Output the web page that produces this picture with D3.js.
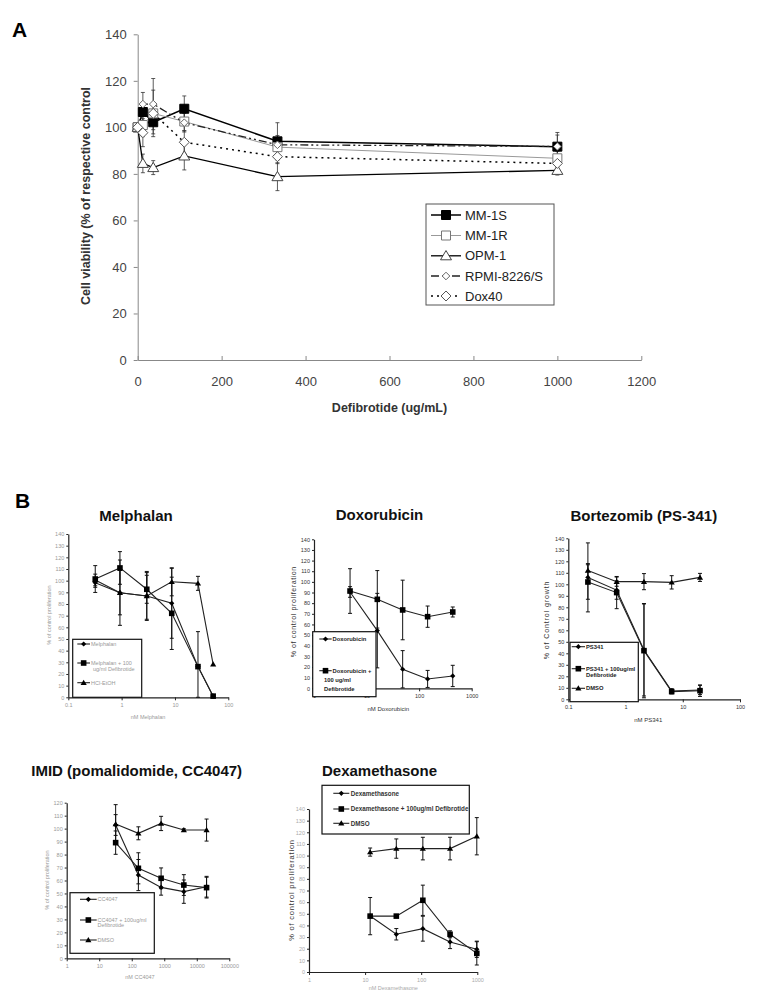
<!DOCTYPE html>
<html><head><meta charset="utf-8">
<script src="https://cdn.jsdelivr.net/npm/d3@7"></script>
<style>body{margin:0;background:#fff}svg{display:block}text{font-family:Arial,"Liberation Sans",sans-serif}</style>
</head><body><svg id="c" width="762" height="1006"></svg>
<script>
// ---------- Panel A data ----------
const defibDoses = [0, 12.3, 37, 111, 333, 1000];
const aTicksX = [0, 200, 400, 600, 800, 1000, 1200];
const aTicksY = [0, 20, 40, 60, 80, 100, 120, 140];
const mm1s = [100, 106.6, 102.2, 108, 94, 91.7];
const mm1sErr = [0, 4, 5, 5.5, 8, 5];
const mm1r = [100, 101, 106, 102.5, 91.5, 86.7];
const mm1rErr = [0, 5, 4, 4, 4, 3];
const opm1 = [100, 84.5, 82.7, 87.7, 78.8, 81.5];
const opm1Err = [0, 4, 3, 6, 6, 2];
const rpmi = [100, 110, 110, 102, 92.5, 91.8];
const rpmiErr = [0, 5, 11, 4, 4, 6];
const dox40 = [100, 97.7, 106, 93.6, 87.4, 84.5];
const dox40Err = [0, 6, 10, 5, 3, 3];

// ---------- Melphalan ----------
const melDoses = [0.32, 0.93, 2.96, 8.7, 27, 52];
const melAlone = [98.3, 89.7, 86.9, 80.6, 26.3, 1];
const melAloneErr = [4, 19, 20, 30, 0, 0];
const melDefib = [101.4, 110.9, 92.6, 72, 26.3, 1];
const melDefibErr = [11.5, 14, 12, 31, 30, 0];
const melVeh = [100.6, 89.7, 86.9, 99, 97.7, 28.3];
const melVehErr = [5, 28, 21, 12, 6, 0];
const melTicksX = [0.1, 1, 10, 100];

// ---------- Doxorubicin ----------
const doxDoses = [4.85, 16, 48.6, 145, 436];
const doxAlone = [90.5, 54.2, 17.9, 8.8, 11.6];
const doxAloneErr = [5, 35, 17.5, 8, 10];
const doxDefib = [91.4, 83.6, 73.6, 67.3, 71.7];
const doxDefibErr = [21, 27, 28, 10, 4.7];
const doxTicksX = [1, 10, 100, 1000];

// ---------- Bortezomib ----------
const bzDoses = [0.22, 0.7, 2.1, 6.4, 20];
const bzAlone = [106, 95, 42.9, 7.2, 8.1];
const bzAloneErr = [30, 8, 40, 2, 4];
const bzDefib = [102, 92.8, 42.3, 6.7, 7.5];
const bzDefibErr = [15, 14, 41, 2, 5];
const bzDmso = [112, 102.3, 102.3, 101.7, 106];
const bzDmsoErr = [6, 4, 7, 5.8, 3.5];
const bzTicksX = [0.1, 1, 10, 100];

// ---------- IMID ----------
const imidDoses = [32, 160, 800, 4000, 20000];
const imidAlone = [102.8, 64.2, 54.7, 51.4, 55.2];
const imidAloneErr = [8, 12, 6, 9, 8];
const imidDefib = [89.2, 69.4, 61.7, 56.5, 54.5];
const imidDefibErr = [9, 12, 8, 8, 8];
const imidDmso = [103.5, 96.4, 104, 98.9, 98.9];
const imidDmsoErr = [15, 5, 5.5, 1, 8.5];
const imidTicksX = [1, 10, 100, 1000, 10000, 100000];

// ---------- Dexamethasone ----------
const dexDoses = [12.3, 36, 107, 327, 980];
const dexAlone = [48.1, 32.4, 37.2, 25.8, 19.5];
const dexAloneErr = [0, 4.9, 10.7, 5.7, 7];
const dexDefib = [48, 48, 61.6, 32.4, 16];
const dexDefibErr = [16, 0, 13, 3, 10];
const dexDmso = [103, 106, 106, 106, 116.6];
const dexDmsoErr = [3.5, 8.3, 9.7, 9.7, 16];
const dexTicksX = [1, 10, 100, 1000];

const svg = d3.select("#c");

function markerPath(type, r) {
  if (type === "square") return `M${-r},${-r}h${2*r}v${2*r}h${-2*r}Z`;
  if (type === "diamond") return `M0,${-r}L${r},0L0,${r}L${-r},0Z`;
  if (type === "triangle") return `M0,${-r*1.05}L${r*1.1},${r*0.8}L${-r*1.1},${r*0.8}Z`;
  return "";
}

// ================= PANEL A =================
(function () {
  const x = d3.scaleLinear().domain([0, 1200]).range([137.7, 641.3]);
  const y = d3.scaleLinear().domain([0, 140]).range([360, 34.3]);
  const g = svg.append("g");

  const ya = d3.axisLeft(y).tickValues(aTicksY).tickSizeInner(4).tickSizeOuter(0).tickPadding(7).tickFormat(d3.format("d"));
  const gy = g.append("g").attr("transform", `translate(${x(0)},0)`).call(ya);
  const xa = d3.axisBottom(x).tickValues(aTicksX).tickSizeInner(-4).tickSizeOuter(0).tickPadding(17).tickFormat(d3.format("d"));
  const gx = g.append("g").attr("transform", `translate(0,${y(0)})`).call(xa);
  [gx, gy].forEach(a => {
    a.select(".domain").attr("stroke", "#888");
    a.selectAll(".tick line").attr("stroke", "#888");
    a.selectAll(".tick text").attr("fill", "#444").attr("font-size", 13).attr("font-family", "Arial, Liberation Sans, sans-serif");
  });

  g.append("text").attr("transform", `translate(90,196) rotate(-90)`).attr("text-anchor", "middle")
    .attr("font-weight", "bold").attr("font-size", 12.5).attr("fill", "#333")
    .text("Cell viability (% of respective control");
  g.append("text").attr("x", 389.5).attr("y", 412).attr("text-anchor", "middle")
    .attr("font-weight", "bold").attr("font-size", 12.5).attr("fill", "#333").text("Defibrotide (ug/mL)");
  svg.append("text").attr("x", 12).attr("y", 37).attr("font-weight", "bold").attr("font-size", 21).attr("fill", "#000").text("A");

  const series = [
    { name: "MM-1S", vals: mm1s, errs: mm1sErr, stroke: "#000", width: 1.5, dash: null, marker: "square", r: 4.5, fill: "#000", ms: "#000" },
    { name: "MM-1R", vals: mm1r, errs: mm1rErr, stroke: "#999", width: 1, dash: null, marker: "square", r: 4.5, fill: "#fff", ms: "#777" },
    { name: "OPM-1", vals: opm1, errs: opm1Err, stroke: "#000", width: 1.3, dash: null, marker: "triangle", r: 5, fill: "#fff", ms: "#444" },
    { name: "RPMI-8226/S", vals: rpmi, errs: rpmiErr, stroke: "#222", width: 1.3, dash: "8,3,2,3,2,3", marker: "diamond", r: 3.8, fill: "#fff", ms: "#666" },
    { name: "Dox40", vals: dox40, errs: dox40Err, stroke: "#000", width: 1.5, dash: "2,4", marker: "diamond", r: 5, fill: "#fff", ms: "#555" }
  ];
  const line = d3.line().x((d, i) => x(defibDoses[i])).y(d => y(d));
  series.forEach(s => {
    s.vals.forEach((v, i) => {
      const e = s.errs[i]; if (!e) return;
      const cx = x(defibDoses[i]);
      g.append("line").attr("x1", cx).attr("x2", cx).attr("y1", y(v - e)).attr("y2", y(v + e)).attr("stroke", "#333").attr("stroke-width", 0.8);
      [v - e, v + e].forEach(t => g.append("line").attr("x1", cx - 2).attr("x2", cx + 2).attr("y1", y(t)).attr("y2", y(t)).attr("stroke", "#333").attr("stroke-width", 0.8));
    });
  });
  series.forEach(s => {
    g.append("path").attr("d", line(s.vals)).attr("fill", "none").attr("stroke", s.stroke)
      .attr("stroke-width", s.width).attr("stroke-dasharray", s.dash);
  });
  series.forEach(s => {
    s.vals.forEach((v, i) => {
      g.append("path").attr("d", markerPath(s.marker, s.r)).attr("transform", `translate(${x(defibDoses[i])},${y(v)})`)
        .attr("fill", s.fill).attr("stroke", s.ms).attr("stroke-width", 1);
    });
  });
  // legend
  const lg = g.append("g");
  lg.append("rect").attr("x", 426).attr("y", 204).attr("width", 128).attr("height", 101).attr("fill", "#fff").attr("stroke", "#555");
  const ly = [215, 235.5, 255.8, 276, 296];
  series.forEach((s, i) => {
    lg.append("line").attr("x1", 431).attr("x2", 461).attr("y1", ly[i]).attr("y2", ly[i]).attr("stroke", s.stroke)
      .attr("stroke-width", s.width).attr("stroke-dasharray", s.dash);
    lg.append("path").attr("d", markerPath(s.marker, s.r)).attr("transform", `translate(446,${ly[i]})`)
      .attr("fill", s.fill).attr("stroke", s.ms);
    lg.append("text").attr("x", 465).attr("y", ly[i]).attr("dy", "0.35em").attr("font-size", 13).attr("fill", "#222").text(s.name);
  });
})();

svg.append("text").attr("x", 15).attr("y", 508).attr("font-weight", "bold").attr("font-size", 21).attr("fill", "#000").text("B");

// ================= small panels =================
function panel(c) {
  const x = d3.scaleLog().domain(c.xd).range(c.xr);
  const y = d3.scaleLinear().domain([0, c.ymax]).range(c.yr);
  const g = svg.append("g");
  const ya = d3.axisLeft(y).tickValues(d3.range(0, c.ymax + 1, 10)).tickSizeInner(2).tickSizeOuter(0).tickPadding(2).tickFormat(d3.format("d"));
  const gy = g.append("g").attr("transform", `translate(${c.xr[0]},0)`).call(ya);
  const xa = d3.axisBottom(x).tickValues(c.xticks).tickSizeInner(3).tickSizeOuter(0).tickPadding(3).tickFormat(d => String(d));
  const gx = g.append("g").attr("transform", `translate(0,${c.yr[0]})`).call(xa);
  [gx, gy].forEach(a => {
    a.select(".domain").attr("stroke", "#222").attr("stroke-width", 1.2);
    a.selectAll(".tick line").attr("stroke", "#222");
    a.selectAll(".tick text").attr("fill", c.tickColor).attr("font-size", 5.5).attr("font-family", "Arial, Liberation Sans, sans-serif");
  });
  g.append("text").attr("x", c.title[1]).attr("y", c.title[2]).attr("text-anchor", "middle").attr("font-weight", "bold")
    .attr("font-size", 15).attr("fill", "#111").text(c.title[0]);
  g.append("text").attr("x", c.xlab[1]).attr("y", c.xlab[2]).attr("text-anchor", "middle").attr("font-size", c.xlab[3])
    .attr("fill", c.xlab[4]).text(c.xlab[0]);
  g.append("text").attr("transform", `translate(${c.ylab[1]},${c.ylab[2]}) rotate(-90)`).attr("text-anchor", "middle")
    .attr("font-size", c.ylab[3]).attr("fill", c.ylab[4]).attr("letter-spacing", c.ylab[5] || 0).text(c.ylab[0]);

  const ymin = 0;
  c.series.forEach(s => {
    s.vals.forEach((v, i) => {
      const e = s.errs[i]; if (!e) return;
      const cx = x(c.doses[i]);
      const lo = Math.max(ymin, v - e), hi = Math.min(c.ymax, v + e);
      g.append("line").attr("x1", cx).attr("x2", cx).attr("y1", y(lo)).attr("y2", y(hi)).attr("stroke", "#111").attr("stroke-width", 1);
      [lo, hi].forEach(t => g.append("line").attr("x1", cx - 2).attr("x2", cx + 2).attr("y1", y(t)).attr("y2", y(t)).attr("stroke", "#111").attr("stroke-width", 1));
    });
  });
  const line = d3.line().x((d, i) => x(c.doses[i])).y(d => y(d));
  c.series.forEach(s => {
    g.append("path").attr("d", line(s.vals)).attr("fill", "none").attr("stroke", "#222").attr("stroke-width", 1.1);
  });
  c.series.forEach(s => {
    s.vals.forEach((v, i) => {
      g.append("path").attr("d", markerPath(s.marker, s.r)).attr("transform", `translate(${x(c.doses[i])},${y(v)})`).attr("fill", "#000");
    });
  });
  // legend
  const L = c.legend;
  g.append("rect").attr("x", L.box[0]).attr("y", L.box[1]).attr("width", L.box[2]).attr("height", L.box[3])
    .attr("fill", "#fff").attr("stroke", "#111").attr("stroke-width", 1.2);
  L.entries.forEach((en, i) => {
    const s = c.series[i];
    g.append("line").attr("x1", L.lx[0]).attr("x2", L.lx[1]).attr("y1", en.y).attr("y2", en.y).attr("stroke", "#222").attr("stroke-width", 1.1);
    g.append("path").attr("d", markerPath(s.marker, s.r)).attr("transform", `translate(${(L.lx[0] + L.lx[1]) / 2},${en.y})`).attr("fill", "#000");
    en.lines.forEach((t, j) => {
      g.append("text").attr("x", j === 0 ? L.tx : (en.tx2 || L.tx)).attr("y", en.y + j * (en.gap || 7)).attr("dy", "0.35em")
        .attr("font-size", L.fs).attr("fill", L.color).attr("font-weight", L.fw || "normal").text(t);
    });
  });
}

const mk = {
  diamond: (vals, errs) => ({ vals, errs, marker: "diamond", r: 2.6 }),
  square: (vals, errs) => ({ vals, errs, marker: "square", r: 2.8 }),
  triangle: (vals, errs) => ({ vals, errs, marker: "triangle", r: 2.8 })
};

panel({
  xd: [0.1, 100], xr: [68.3, 228.3], ymax: 140, yr: [697.3, 534], xticks: melTicksX, doses: melDoses,
  tickColor: "#999", title: ["Melphalan", 136, 520.5],
  xlab: ["nM Melphalan", 148, 719, 5.5, "#999"], ylab: ["% of control proliferation", 51, 615, 5.5, "#999"],
  series: [mk.diamond(melAlone, melAloneErr), mk.square(melDefib, melDefibErr), mk.triangle(melVeh, melVehErr)],
  legend: { box: [72.7, 639.3, 69, 58], lx: [77.3, 90], tx: 91, fs: 5.5, color: "#999",
    entries: [{ y: 644, lines: ["Melphalan"] }, { y: 663, lines: ["Melphalan + 100", "ug/ml Defibrotide"], gap: 5.6, tx2: 93 }, { y: 682.7, lines: ["HCl-EtOH"] }] }
});

panel({
  xd: [1, 1000], xr: [314, 471.7], ymax: 140, yr: [688.3, 539.3], xticks: doxTicksX, doses: doxDoses,
  tickColor: "#333", title: ["Doxorubicin", 379.5, 520],
  xlab: ["nM Doxorubicin", 388.3, 711, 6, "#333"], ylab: ["% of control proliferation", 296, 611.7, 7, "#333", 0.6],
  series: [mk.diamond(doxAlone, doxAloneErr), mk.square(doxDefib, doxDefibErr)],
  legend: { box: [312.7, 631.7, 63.3, 65], lx: [319.3, 331.7], tx: 332.5, fs: 5.8, color: "#222", fw: "bold",
    entries: [{ y: 639, lines: ["Doxorubicin"] }, { y: 670.7, lines: ["Doxorubicin +", "100 ug/ml", "Defibrotide"], gap: 9.3, tx2: 324 }] }
});

panel({
  xd: [0.1, 100], xr: [568.3, 740], ymax: 140, yr: [699.3, 538.3], xticks: bzTicksX, doses: bzDoses,
  tickColor: "#333", title: ["Bortezomib (PS-341)", 643.8, 521],
  xlab: ["nM PS341", 648.3, 722, 6, "#333"], ylab: ["% of Control growth", 548.5, 620, 7, "#333", 0.9],
  series: [mk.diamond(bzAlone, bzAloneErr), mk.square(bzDefib, bzDefibErr), mk.triangle(bzDmso, bzDmsoErr)],
  legend: { box: [570, 642.3, 68.3, 59.4], lx: [571.7, 585], tx: 586, fs: 5.8, color: "#222", fw: "bold",
    entries: [{ y: 646.7, lines: ["PS341"] }, { y: 668.7, lines: ["PS341 + 100ug/ml", "Defibrotide"], gap: 6.5 }, { y: 688.3, lines: ["DMSO"] }] }
});

panel({
  xd: [1, 100000], xr: [66.7, 229.3], ymax: 120, yr: [958.3, 802.7], xticks: imidTicksX, doses: imidDoses,
  tickColor: "#999", title: ["IMID (pomalidomide, CC4047)", 136.7, 776],
  xlab: ["nM CC4047", 140, 979, 5.5, "#999"], ylab: ["% of control proliferation", 48.5, 880, 5.5, "#999"],
  series: [mk.diamond(imidAlone, imidAloneErr), mk.square(imidDefib, imidDefibErr), mk.triangle(imidDmso, imidDmsoErr)],
  legend: { box: [70, 892.7, 84.3, 60.6], lx: [80, 96.7], tx: 97.5, fs: 5.5, color: "#999",
    entries: [{ y: 899.3, lines: ["CC4047"] }, { y: 920, lines: ["CC4047 + 100ug/ml", "Defibrotide"], gap: 5.5 }, { y: 940, lines: ["DMSO"] }] }
});

panel({
  xd: [1, 1000], xr: [309, 477.3], ymax: 140, yr: [972, 809], xticks: dexTicksX, doses: dexDoses,
  tickColor: "#aaa", title: ["Dexamethasone", 379.5, 776],
  xlab: ["nM Dexamethasone", 393.3, 990, 5.5, "#aaa"], ylab: ["% of control proliferation", 294, 890, 7.5, "#333", 0.8],
  series: [mk.diamond(dexAlone, dexAloneErr), mk.square(dexDefib, dexDefibErr), mk.triangle(dexDmso, dexDmsoErr)],
  legend: { box: [322, 785.3, 147.3, 48.7], lx: [333.3, 349.3], tx: 350.7, fs: 6.3, color: "#333", fw: "bold",
    entries: [{ y: 793.3, lines: ["Dexamethasone"] }, { y: 809, lines: ["Dexamethasone + 100ug/ml Defibrotide"] }, { y: 823.3, lines: ["DMSO"] }] }
});
</script></body></html>
